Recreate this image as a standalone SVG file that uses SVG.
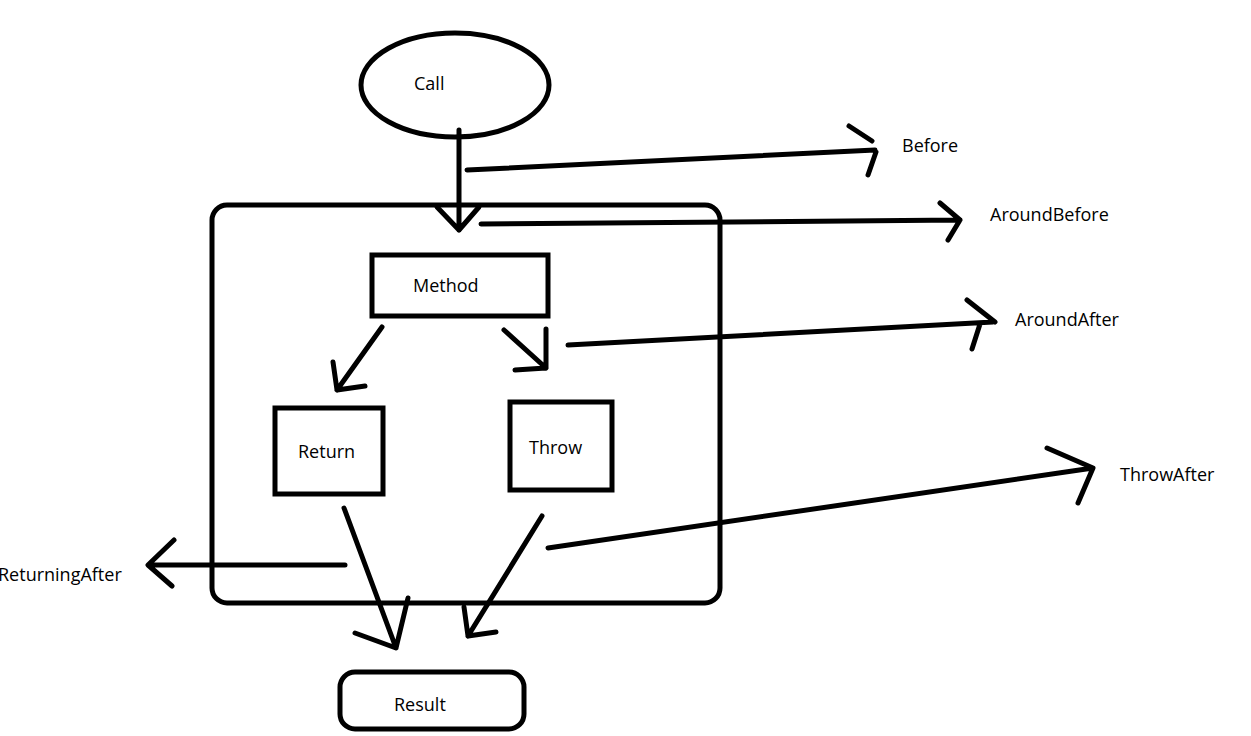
<svg xmlns="http://www.w3.org/2000/svg" width="1251" height="736" viewBox="0 0 1251 736">
<style>
.s{fill:none;stroke:#000;stroke-width:5;stroke-linecap:round;stroke-linejoin:round}
.b{fill:#fff;stroke:#000;stroke-width:5}
.t{font-family:"Open Sans","Noto Sans",sans-serif;font-size:18px;fill:#000}
</style>
<rect width="1251" height="736" fill="#fff"/>
<g id="frame"><rect x="212" y="205" width="508" height="398" rx="15" class="b"/></g>
<g id="call"><ellipse cx="455" cy="85" rx="94" ry="52" class="b"/><text x="414" y="90" class="t">Call</text></g>
<g id="method"><rect x="372" y="255" width="176" height="61" class="b"/><text x="413" y="292" class="t">Method</text></g>
<g id="return"><rect x="275" y="408" width="108" height="86" class="b"/><text x="298" y="458" class="t">Return</text></g>
<g id="throw"><rect x="510" y="402" width="102" height="88" class="b"/><text x="529" y="454" class="t">Throw</text></g>
<g id="result"><rect x="340" y="672" width="184" height="57" rx="15" class="b"/><text x="394" y="711" class="t">Result</text></g>
<g id="labels">
<text x="902" y="152" class="t">Before</text>
<text x="990" y="221" class="t">AroundBefore</text>
<text x="1015" y="326" class="t">AroundAfter</text>
<text x="1120" y="481" class="t">ThrowAfter</text>
<text x="-2" y="581" class="t">ReturningAfter</text>
</g>
<g id="connectors">
<path class="s" d="M459 130V230M437 207L459 230L479 207"/>
<path class="s" d="M467 170L875 150M849 126L872 141M876 152L868 175"/>
<path class="s" d="M481 224L960 220M940 203L960 220L948 240"/>
<path class="s" d="M382 327L337 390M333 362L337 390L365 386"/>
<path class="s" d="M504 330L546 368M546 329V368L515 370"/>
<path class="s" d="M568 345L993 322M967 300L995 322M980 324L972 349"/>
<path class="s" d="M548 548L1093 468M1047 448L1093 468L1078 503"/>
<path class="s" d="M345 565H150M174 540L148 565L172 586"/>
<path class="s" d="M344 508L396 648M355 633L396 648L408 598"/>
<path class="s" d="M542 516L468 636M464 607L468 636L496 632"/>
</g>
</svg>
